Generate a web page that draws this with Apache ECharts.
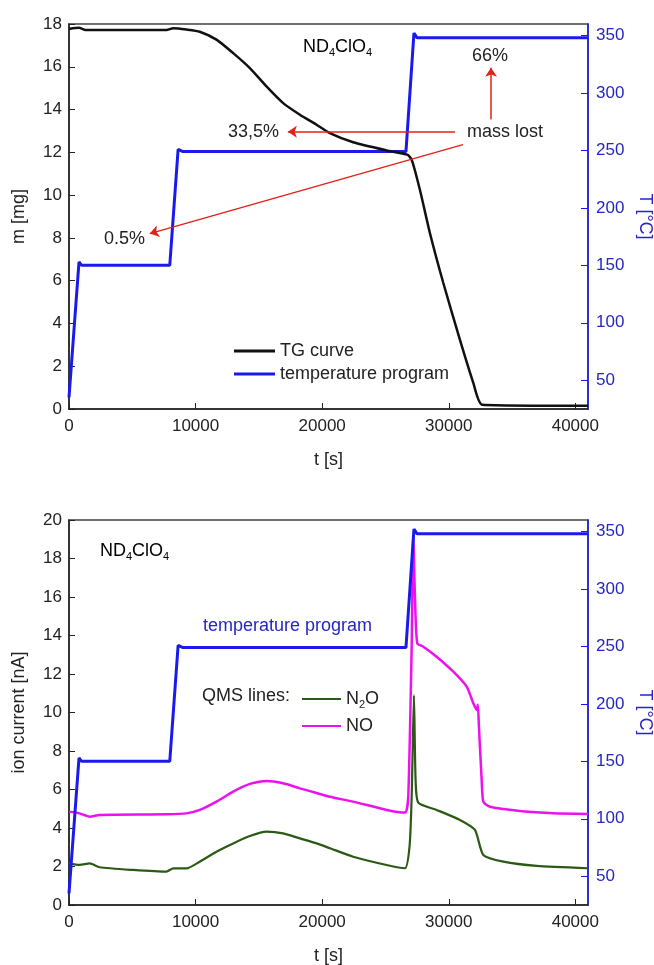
<!DOCTYPE html>
<html>
<head>
    <meta charset="utf-8">
    <title>ND4ClO4 TG / QMS</title>
    <script src="https://cdn.jsdelivr.net/npm/echarts@6/dist/echarts.min.js"></script>
    <style>
        body { margin: 0; background: #fff; }
    </style>
</head>
<body>
    <div id="main" style="width: 654px;height:965px;"></div>
    <script type="text/javascript">
        // temperature program (same for both panels)
        var tempTime = [0, 790, 1000, 7960, 8620, 9000, 26620, 27250, 27500, 41000];
        var tempVal = [35, 153, 150, 150, 251, 249, 249, 352, 348, 348];

        // TG curve
        var tgTime = [0, 790, 1300, 7700, 8230, 9280, 10330, 11650, 12970, 14290, 15600, 16920, 18240, 19560, 20610, 22450, 25090, 26720, 27070, 27720, 28510, 29570, 30880, 31940, 32650, 41000];
        var tgMass = [17.77, 17.82, 17.72, 17.72, 17.8, 17.74, 17.64, 17.27, 16.64, 15.94, 15.08, 14.3, 13.76, 13.29, 12.9, 12.47, 12.09, 11.89, 11.66, 10.25, 8.23, 5.89, 3.24, 1.22, 0.2, 0.15];

        // QMS lines
        var noTime = [0, 840, 1640, 2420, 7700, 9280, 10330, 11650, 12970, 14290, 15600, 16920, 18240, 19560, 20610, 22450, 25090, 26540, 26800, 27070, 27200, 27330, 27510, 27990, 29040, 30360, 31420, 31940, 32200, 32300, 32380, 32600, 32730, 33260, 35630, 38260, 41000];
        var noVal = [4.85, 4.76, 4.59, 4.68, 4.71, 4.76, 4.94, 5.37, 5.89, 6.29, 6.44, 6.32, 6.06, 5.82, 5.62, 5.37, 4.94, 4.8, 5.63, 13.4, 19.13, 16.0, 13.6, 13.42, 12.9, 12.12, 11.34, 10.48, 10.13, 10.4, 9.3, 6.5, 5.37, 5.1, 4.88, 4.76, 4.73];
        var n2oTime = [0, 840, 1640, 2420, 5060, 7700, 8230, 9280, 10330, 11650, 12970, 14290, 15600, 16920, 18240, 19560, 20610, 22450, 25090, 26540, 26900, 27070, 27250, 27380, 27590, 29040, 30880, 32070, 32730, 34310, 36950, 41000];
        var n2oVal = [2.16, 2.08, 2.16, 1.96, 1.82, 1.73, 1.9, 1.9, 2.25, 2.77, 3.2, 3.58, 3.81, 3.72, 3.46, 3.2, 2.95, 2.51, 2.08, 1.91, 3.03, 5.63, 10.9, 6.49, 5.32, 4.94, 4.42, 3.9, 2.6, 2.25, 2.03, 1.91];

        // mass lost annotations: [from t, from m, to t, to m]
        var arrows = [
            [30490, 12.96, 17290, 12.96],
            [31120, 12.36, 6380, 8.2],
            [33340, 13.53, 33340, 15.96]
        ];

        function pairs(xs, ys) {
            var arr = [];
            for (var i = 0; i < xs.length; i++) {
                arr.push([xs[i], ys[i]]);
            }
            return arr;
        }

        var FONT = 'Liberation Sans, Arial, sans-serif';
        var BLUE = '#1a1aee';
        var BLUE_TXT = '#2626c4';
        var INK = '#222';

        function xAxisFor(idx) {
            return {
                gridIndex: idx, type: 'value', min: 0, max: 41000, interval: 10000,
                name: 't [s]', nameLocation: 'middle', nameGap: 42,
                nameTextStyle: { fontSize: 18, color: INK, fontFamily: FONT },
                axisLine: { lineStyle: { color: INK, width: 1.5 } },
                axisTick: { inside: true, length: 6, lineStyle: { color: INK } },
                axisLabel: {
                    fontSize: 17, color: INK, fontFamily: FONT, margin: 9, showMaxLabel: false,
                    formatter: function (v) { return String(v); }
                },
                splitLine: { show: false }
            };
        }
        function leftAxisFor(idx, max, name) {
            return {
                gridIndex: idx, type: 'value', min: 0, max: max, interval: 2,
                name: name, nameLocation: 'middle', nameGap: 41,
                nameTextStyle: { fontSize: 18, color: INK, fontFamily: FONT },
                axisLine: { show: true, lineStyle: { color: INK, width: 1.5 } },
                axisTick: { show: true, inside: true, length: 6, lineStyle: { color: INK } },
                axisLabel: { fontSize: 17, color: INK, fontFamily: FONT, margin: 7 },
                splitLine: { show: false }
            };
        }
        function rightAxisFor(idx) {
            return {
                gridIndex: idx, type: 'value', position: 'right', min: 25, max: 360,
                minInterval: 50, maxInterval: 50,
                name: 'T [°C]', nameLocation: 'middle', nameGap: 48, nameRotate: -90,
                nameTextStyle: { fontSize: 18, color: BLUE_TXT, fontFamily: FONT },
                axisLine: { show: true, lineStyle: { color: BLUE, width: 1.5 } },
                axisTick: { show: true, inside: true, length: 7, lineStyle: { color: BLUE } },
                axisLabel: { fontSize: 17, color: BLUE_TXT, fontFamily: FONT, margin: 8, showMinLabel: false, showMaxLabel: false },
                splitLine: { show: false }
            };
        }

        var subRich = {
            a: { fontSize: 18, color: INK, fontFamily: FONT, lineHeight: 22 },
            s: { fontSize: 11, color: INK, fontFamily: FONT, lineHeight: 12, verticalAlign: 'bottom' }
        };

        var myChart = echarts.init(document.getElementById('main'));
        var option = {
            animation: false,
            backgroundColor: '#fff',
            grid: [
                { left: 69, top: 24, width: 519, height: 385, outerBoundsMode: 'none', containLabel: false, show: true, borderColor: '#444', borderWidth: 1.5 },
                { left: 69, top: 520, width: 519, height: 385, outerBoundsMode: 'none', containLabel: false, show: true, borderColor: '#444', borderWidth: 1.5 }
            ],
            xAxis: [xAxisFor(0), xAxisFor(1)],
            yAxis: [
                leftAxisFor(0, 18, 'm [mg]'),
                rightAxisFor(0),
                leftAxisFor(1, 20, 'ion current [nA]'),
                rightAxisFor(1)
            ],
            legend: [
                {
                    left: 229, top: 336, orient: 'vertical', icon: 'rect', itemWidth: 41, itemHeight: 3, itemGap: 3,
                    data: ['TG curve', 'temperature program'],
                    textStyle: { fontSize: 18, color: INK, fontFamily: FONT, lineHeight: 20 }
                },
                {
                    left: 297, top: 685, orient: 'vertical', icon: 'rect', itemWidth: 39, itemHeight: 2, itemGap: 7,
                    data: ['N2O', 'NO'],
                    formatter: function (name) {
                        return name === 'N2O' ? '{a|N}{s|2}{a|O}' : '{a|NO}';
                    },
                    textStyle: { fontSize: 18, color: INK, fontFamily: FONT, rich: subRich }
                }
            ],
            graphic: [
                {
                    type: 'text', left: 303, top: 38,
                    style: { text: '{a|ND}{s|4}{a|ClO}{s|4}', rich: subRich }
                },
                {
                    type: 'text', left: 100, top: 542,
                    style: { text: '{a|ND}{s|4}{a|ClO}{s|4}', rich: subRich }
                },
                { type: 'text', left: 228, top: 123, style: { text: '33,5%', fontSize: 18, fill: INK, fontFamily: FONT } },
                { type: 'text', left: 467, top: 123, style: { text: 'mass lost', fontSize: 18, fill: INK, fontFamily: FONT } },
                { type: 'text', left: 104, top: 230, style: { text: '0.5%', fontSize: 18, fill: INK, fontFamily: FONT } },
                { type: 'text', left: 472, top: 47, style: { text: '66%', fontSize: 18, fill: INK, fontFamily: FONT } },
                { type: 'text', left: 203, top: 617, style: { text: 'temperature program', fontSize: 18, fill: BLUE_TXT, fontFamily: FONT } },
                { type: 'text', left: 202, top: 687, style: { text: 'QMS lines:', fontSize: 18, fill: INK, fontFamily: FONT } }
            ],
            series: [
                {
                    name: 'temperature program', type: 'line', xAxisIndex: 0, yAxisIndex: 1,
                    symbol: 'none', data: pairs(tempTime, tempVal),
                    lineStyle: { color: BLUE, width: 3 }, itemStyle: { color: BLUE }
                },
                {
                    name: 'TG curve', type: 'line', xAxisIndex: 0, yAxisIndex: 0,
                    symbol: 'none', smooth: 0.2, data: pairs(tgTime, tgMass),
                    lineStyle: { color: '#111', width: 2.5 }, itemStyle: { color: '#111' },
                    markLine: {
                        silent: true, symbol: ['none', 'arrow'], symbolSize: 9,
                        label: { show: false },
                        lineStyle: { color: '#e3211b', width: 1.5, type: 'solid' },
                        data: arrows.map(function (a) {
                            return [{ coord: [a[0], a[1]] }, { coord: [a[2], a[3]] }];
                        })
                    }
                },
                {
                    name: 'N2O', type: 'line', xAxisIndex: 1, yAxisIndex: 2,
                    symbol: 'none', smooth: 0.2, data: pairs(n2oTime, n2oVal),
                    lineStyle: { color: '#2c5a16', width: 2.2 }, itemStyle: { color: '#2c5a16' }
                },
                {
                    name: 'NO', type: 'line', xAxisIndex: 1, yAxisIndex: 2,
                    symbol: 'none', smooth: 0.2, data: pairs(noTime, noVal),
                    lineStyle: { color: '#ee10ee', width: 2.5 }, itemStyle: { color: '#ee10ee' }
                },
                {
                    name: 'temperature program (QMS)', type: 'line', xAxisIndex: 1, yAxisIndex: 3,
                    symbol: 'none', data: pairs(tempTime, tempVal),
                    lineStyle: { color: BLUE, width: 3 }, itemStyle: { color: BLUE }
                }
            ]
        };
        myChart.setOption(option);
    </script>
</body>
</html>
